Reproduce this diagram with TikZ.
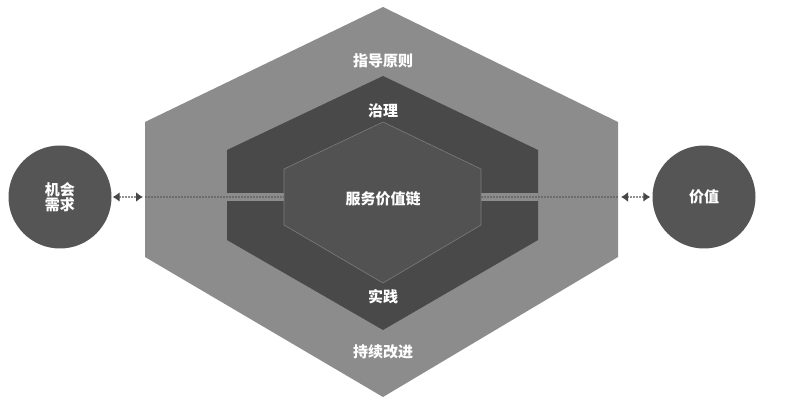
\documentclass[tikz,border=0pt]{standalone}
\usepackage{fontspec}
\newfontfamily\cjk{Noto Sans CJK SC}
\usetikzlibrary{arrows.meta}
\definecolor{outerc}{HTML}{8C8C8C}
\definecolor{midc}{HTML}{494949}
\definecolor{innerc}{HTML}{525252}
\definecolor{edgec}{HTML}{7C7C7C}
\definecolor{circc}{HTML}{555555}
\definecolor{dashc}{HTML}{6C6C6C}
\definecolor{tipc}{HTML}{474747}
\begin{document}
\begin{tikzpicture}[x=1pt,y=-1pt,
  lbl/.style={text=white,inner sep=0pt,font=\cjk\bfseries\fontsize{15}{16}\selectfont},
  goal/.style={circle,fill=circc,minimum size=103pt,inner sep=0pt,align=center,text=white,font=\cjk\bfseries\fontsize{15}{16}\selectfont},
  link/.style={draw=dashc,line width=1.8pt,dash pattern=on 2pt off 1pt},
  flow/.style={draw=dashc!75,line width=1.8pt,dash pattern=on 2pt off 1pt,{Latex[length=7pt,width=10pt,color=tipc]}-{Latex[length=7pt,width=10pt,color=tipc]}}]
   \useasboundingbox (0,0) rectangle (807,409);
   % hexagons
   \fill[outerc] (383,7) -- (618,122) -- (618,257) -- (383,397) -- (145,257) -- (145,122) -- cycle;
   \fill[midc] (383,76) -- (538,150) -- (538,240) -- (383,330) -- (227,240) -- (227,150) -- cycle;
   \fill[outerc] (227,193) rectangle (284,201);
   \fill[outerc] (481,193) rectangle (538,201);
   \filldraw[fill=innerc,draw=edgec,line width=0.6pt] (383,122) -- (481,169) -- (481,225) -- (383,283) -- (284,225) -- (284,169) -- cycle;
   \coordinate (outL) at (145,197);
   \coordinate (inL) at (284,197);
   \coordinate (inR) at (481,197);
   \coordinate (outR) at (618,197);
   \draw[link] (outL) -- (inL);
   \draw[link] (inR) -- (outR);
   \node (guide) [lbl] at (383,61) {指导原则};
   \node (govern) [lbl] at (383,111) {治理};
   \node (chain) [lbl] at (383,199) {服务价值链};
   \node (practice) [lbl] at (383,297) {实践};
   \node (improve) [lbl] at (383,352) {持续改进};
   \node (need) [goal] at (60,197) {机会\\[-1pt]需求};
   \node (value) [goal] at (704,197) {价值};
   \draw[flow,shorten <=1pt,shorten >=2pt] (need) -- (outL);
   \draw[flow,shorten <=3pt,shorten >=2pt] (outR) -- (value);
  \end{tikzpicture}
\end{document}
